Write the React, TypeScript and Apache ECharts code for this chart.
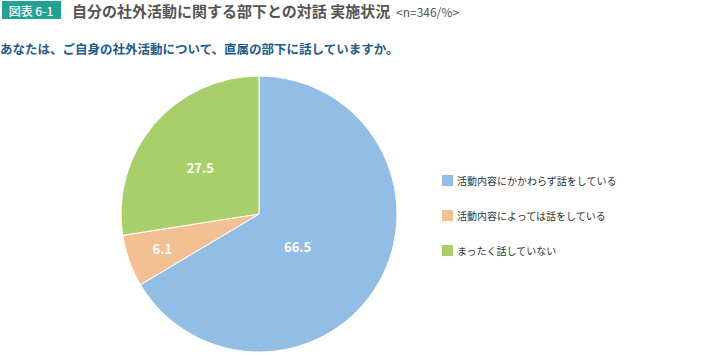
import React, { useEffect, useRef } from "react";
import * as echarts from "echarts";

const categories = [
  "活動内容にかかわらず話をしている",
  "活動内容によっては話をしている",
  "まったく話していない",
];
const values = [66.5, 6.1, 27.5];
const colors = ["#92bde4", "#f2c092", "#a9cf6b"];
const labelOffsets: [number, number][] = [[-24, -3], [-29, 10], [-4, 0]];

export default function App() {
  const ref = useRef<HTMLDivElement>(null);
  useEffect(() => {
    if (!ref.current) return;
    const chart = echarts.init(ref.current, null, { renderer: "svg" });
    const font = "'Noto Sans CJK JP', 'Noto Sans', sans-serif";
    chart.setOption({
      animation: false,
      backgroundColor: "#ffffff",
      textStyle: { fontFamily: font },
      graphic: [
        { type: "rect", shape: { x: 2, y: 1, width: 59, height: 18 }, style: { fill: "#22a290" } },
        {
          type: "text", x: 31, y: 10,
          style: { text: "図表 6-1", fill: "#ffffff", font: `500 12px ${font}`, align: "center", verticalAlign: "middle" },
        },
        {
          type: "text", x: 72, y: 10,
          style: { text: "自分の社外活動に関する部下との対話 実施状況", fill: "#555555", font: `bold 15px ${font}`, verticalAlign: "middle" },
        },
        {
          type: "text", x: 396, y: 11,
          style: { text: "<n=346/%>", fill: "#555555", font: `12px ${font}`, verticalAlign: "middle" },
        },
        {
          type: "text", x: 0, y: 48,
          style: { text: "あなたは、ご自身の社外活動について、直属の部下に話していますか。", fill: "#245a8c", font: `bold 12.5px ${font}`, verticalAlign: "middle" },
        },
      ],
      legend: {
        orient: "vertical",
        left: 440,
        top: 173,
        padding: 0,
        icon: "rect",
        itemWidth: 13,
        itemHeight: 13,
        itemGap: 20,
        textStyle: { fontSize: 10, lineHeight: 13, color: "#333333", fontFamily: font, padding: [0, 0, 0, -2] },
        data: categories,
      },
      series: [
        {
          type: "pie",
          center: [259, 214],
          radius: 138,
          startAngle: 90,
          clockwise: true,
          itemStyle: { borderColor: "#ffffff", borderWidth: 1 },
          label: {
            show: true,
            position: "inside",
            color: "#ffffff",
            fontSize: 13,
            fontWeight: "bold",
            fontFamily: font,
            formatter: (p: any) => p.value.toFixed(1),
          },
          labelLine: { show: false },
          data: categories.map((name, i) => ({
            name,
            value: values[i],
            itemStyle: { color: colors[i] },
            label: { offset: labelOffsets[i] },
          })),
        },
      ],
    });
    return () => chart.dispose();
  }, []);
  return (
    <div
      ref={ref}
      style={{ position: "fixed", left: 0, top: 0, width: 728, height: 356 }}
    />
  );
}
